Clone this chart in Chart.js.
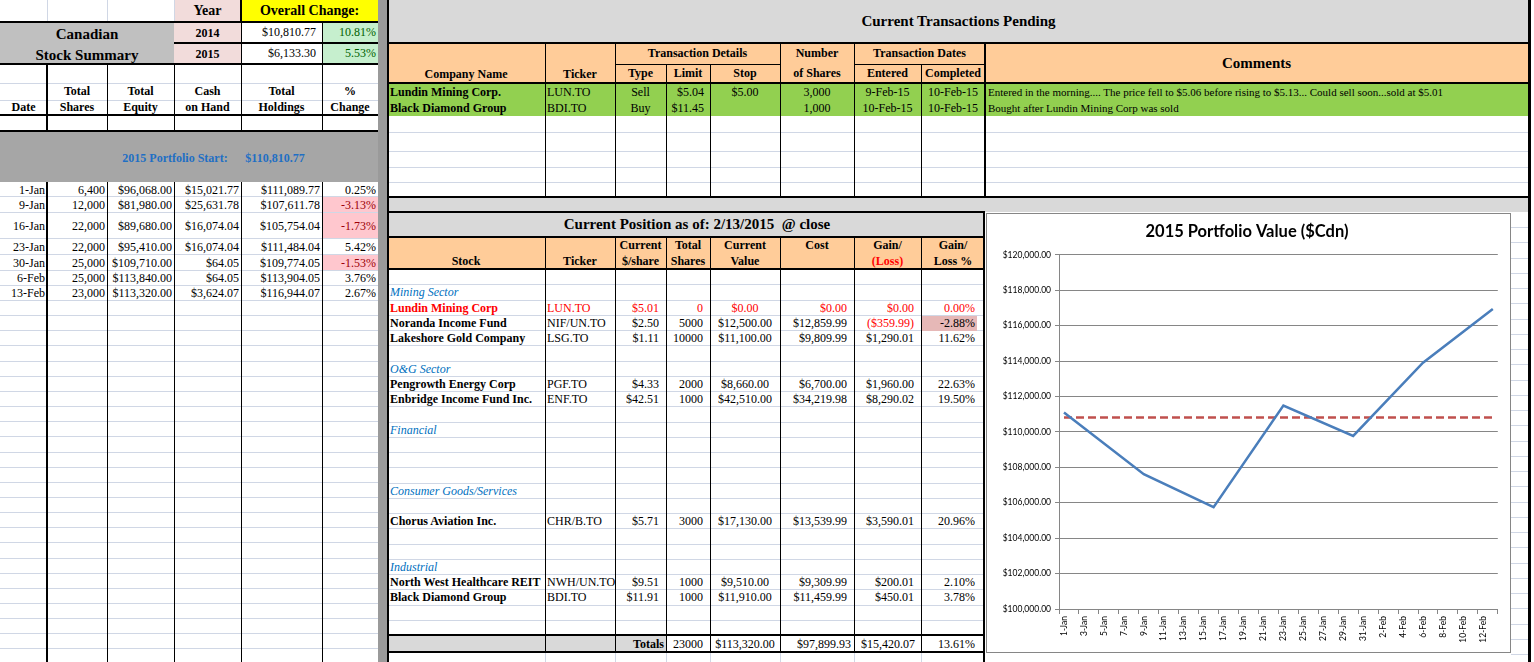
<!DOCTYPE html>
<html><head><meta charset="utf-8">
<script src="https://cdn.jsdelivr.net/npm/chart.js@4.4.1/dist/chart.umd.min.js"></script>
<style>
html,body{margin:0;padding:0;background:#fff;}
#sheet{position:relative;width:1534px;height:662px;overflow:hidden;font-family:'Liberation Serif','Times New Roman',serif;color:#000;}
#sheet div{position:absolute;box-sizing:border-box;}
</style></head><body>
<div id="sheet"></div>
<script>
// ---------- DATA ----------
const dates = ['1-Jan','9-Jan','16-Jan','23-Jan','30-Jan','6-Feb','13-Feb'];
const totalShares = [6400, 12000, 22000, 22000, 25000, 25000, 23000];
const totalEquity = [96068.00, 81980.00, 89680.00, 95410.00, 109710.00, 113840.00, 113320.00];
const cashOnHand = [15021.77, 25631.78, 16074.04, 16074.04, 64.05, 64.05, 3624.07];
const totalHoldings = [111089.77, 107611.78, 105754.04, 111484.04, 109774.05, 113904.05, 116944.07];
const pctChange = [0.25, -3.13, -1.73, 5.42, -1.53, 3.76, 2.67];
const portfolioStart = 110810.77;
const xTickLabels = ['1-Jan','3-Jan','5-Jan','7-Jan','9-Jan','11-Jan','13-Jan','15-Jan','17-Jan','19-Jan','21-Jan','23-Jan','25-Jan','27-Jan','29-Jan','31-Jan','2-Feb','4-Feb','6-Feb','8-Feb','10-Feb','12-Feb'];
const yMin = 100000, yMax = 120000, yStep = 2000;
const chartTitle = '2015 Portfolio Value ($Cdn)';

// ---------- helpers ----------
const S = document.getElementById('sheet');
function box(x,y,w,h,css){const d=document.createElement('div');d.style.cssText=`left:${x}px;top:${y}px;width:${w}px;height:${h}px;`+(css||'');S.appendChild(d);return d;}
function hl(x1,x2,y,t,c){box(x1,y,x2-x1,t||1,`background:${c||'#000'};`);}
function vl(x,y1,y2,t,c){box(x,y1,t||1,y2-y1,`background:${c||'#000'};`);}
function txt(x1,x2,y1,y2,s,o){o=o||{};const a=o.a||'left';const pad=o.pad!=null?o.pad:3;
  const d=box(x1,y1,x2-x1,y2-y1,`line-height:${y2-y1}px;white-space:pre;overflow:visible;font-size:${o.size||12}px;font-weight:${o.b?'bold':'normal'};font-style:${o.i?'italic':'normal'};color:${o.c||'#000'};text-align:${a};`+(a==='right'?`padding-right:${pad}px;`:a==='left'?`padding-left:${pad}px;`:'')+(o.ff?`font-family:${o.ff};`:''));
  d.textContent=s;return d;}
const money=v=>(v<0?'($'+Math.abs(v).toLocaleString('en-US',{minimumFractionDigits:2,maximumFractionDigits:2})+')':'$'+v.toLocaleString('en-US',{minimumFractionDigits:2,maximumFractionDigits:2}));
const pct=v=>v.toFixed(2)+'%';
const GL='#d0d7e5';

// ================= LEFT PANEL =================
box(174,0,67,22,'background:#f2dcdb');
box(241,0,137,22,'background:#ffff00');
box(0,22,174,42,'background:#c0c0c0');
box(174,22,67,42,'background:#f2dcdb');
box(322,22,56,42,'background:#c6efce');
box(0,131,378,51,'background:#a6a6a6');
const leftRows=[182,196,212,238,254,270,285,300];
pctChange.forEach((v,i)=>{ if(v<0) box(322,leftRows[i],56,leftRows[i+1]-leftRows[i],'background:#ffc7ce'); });
[83,100].forEach(y=>hl(0,378,y,1,GL));
vl(47,0,22,1,GL); vl(107,0,22,1,GL); vl(174,0,22,1,GL);
for(let i=1;i<leftRows.length;i++) hl(0,378,leftRows[i],1,GL);
for(let y=315.2;y<662;y+=15.15) hl(0,378,Math.round(y),1,GL);
hl(0,378,21,2); hl(174,378,42,2); hl(0,378,63,2); hl(0,378,114,2); hl(0,378,130,2);
vl(240,0,22,2); vl(241,22,64,1); vl(322,22,64,1);
[[46,2],[107,1],[174,1],[241,1],[322,1]].forEach(([x,t])=>{vl(x,64,131,t);vl(x,182,662,t);});
box(378,0,9,662,'background:#9a9a9a'); vl(387,0,662,2);
txt(174,241,0,22,'Year',{a:'center',b:1,size:14});
txt(241,378,0,22,'Overall Change:',{a:'center',b:1,size:14});
txt(0,174,23,45,'Canadian',{a:'center',b:1,size:15});
txt(0,174,44,66,'Stock Summary',{a:'center',b:1,size:15});
txt(174,241,23,44,'2014',{a:'center',b:1,size:12});
txt(174,241,44,65,'2015',{a:'center',b:1,size:12});
txt(241,322,22,43,'$10,810.77',{a:'right',pad:6,size:12});
txt(241,322,43,64,'$6,133.30',{a:'right',pad:6,size:12});
txt(322,378,22,43,'10.81%',{a:'right',pad:2,size:12,c:'#006100'});
txt(322,378,43,64,'5.53%',{a:'right',pad:2,size:12,c:'#006100'});
const lc=[0,47,107,174,241,322,378];
const h1=['','Total','Total','Cash','Total','%'], h2=['Date','Shares','Equity','on Hand','Holdings','Change'];
for(let c=0;c<6;c++){ if(h1[c]) txt(lc[c],lc[c+1],83,100,h1[c],{a:'center',b:1}); txt(lc[c],lc[c+1],100,115,h2[c],{a:'center',b:1}); }
txt(110,240,150,166,'2015 Portfolio Start:',{a:'center',b:1,c:'#1f6fc4'});
txt(240,310,150,166,money(portfolioStart),{a:'center',b:1,c:'#1f6fc4'});
dates.forEach((d,i)=>{
  const y1=leftRows[i]+1, y2=leftRows[i+1]+1;
  const vals=[d,totalShares[i].toLocaleString('en-US'),money(totalEquity[i]),money(cashOnHand[i]),money(totalHoldings[i]),pct(pctChange[i])];
  vals.forEach((s,c)=>txt(lc[c],lc[c+1],y1,y2,s,{a:'right',pad:2,c:(c===5&&pctChange[i]<0)?'#9c0006':'#000'}));
});

// ================= TOP PANEL =================
box(389,0,1139,42,'background:#d9d9d9');
box(389,44,1139,38,'background:#ffcc99');
box(389,84,1139,32,'background:#92d050');
[132,151,167,182].forEach(y=>hl(389,1528,y,1,GL));
box(389,198,1139,14,'background:#d9d9d9');
hl(387,1528,42,2); hl(387,1528,82,2); hl(387,1528,196,2);
hl(615,780,64,1); hl(854,985,64,1);
[[545,42],[615,42],[666,64],[710,64],[780,42],[854,42],[921,64]].forEach(([x,y])=>vl(x,y,197,1));
vl(984,42,197,2);
vl(1528,0,662,3);
txt(389,1528,0,42,'Current Transactions Pending',{a:'center',b:1,size:15});
txt(387,545,66,83,'Company Name',{a:'center',b:1});
txt(545,615,66,83,'Ticker',{a:'center',b:1});
txt(615,780,44,63,'Transaction Details',{a:'center',b:1});
txt(615,666,65,82,'Type',{a:'center',b:1});
txt(666,710,65,82,'Limit',{a:'center',b:1});
txt(710,780,65,82,'Stop',{a:'center',b:1});
txt(780,854,44,63,'Number',{a:'center',b:1});
txt(780,854,65,82,'of Shares',{a:'center',b:1});
txt(854,985,44,63,'Transaction Dates',{a:'center',b:1});
txt(854,921,65,82,'Entered',{a:'center',b:1});
txt(921,985,65,82,'Completed',{a:'center',b:1});
txt(985,1528,44,82,'Comments',{a:'center',b:1,size:15});
const tx=[
 ['Lundin Mining Corp.','LUN.TO','Sell','$5.04','$5.00','3,000','9-Feb-15','10-Feb-15','Entered in the morning.... The price fell to $5.06 before rising to $5.13... Could sell soon...sold at $5.01'],
 ['Black Diamond Group','BDI.TO','Buy','$11.45','','1,000','10-Feb-15','10-Feb-15','Bought after Lundin Mining Corp was sold']];
tx.forEach((r,i)=>{const y1=84+i*16,y2=y1+16;
  txt(387,545,y1,y2,r[0],{b:1,pad:3}); txt(545,615,y1,y2,r[1],{pad:2});
  txt(615,666,y1,y2,r[2],{a:'center'}); txt(666,710,y1,y2,r[3],{a:'right',pad:6});
  txt(710,780,y1,y2,r[4],{a:'center'}); txt(780,854,y1,y2,r[5],{a:'center'});
  txt(854,921,y1,y2,r[6],{a:'center'}); txt(921,985,y1,y2,r[7],{a:'center'});
  txt(985,1528,y1,y2,r[8],{pad:3,size:11});
});

// ================= MIDDLE PANEL =================
box(389,213,595,24,'background:#d9d9d9');
box(389,238,595,31,'background:#ffcc99');
box(389,636,277,16,'background:#d9d9d9');
const RH=15.25, R0=269;
for(let i=1;i<24;i++) hl(389,984,Math.round(R0+i*RH),1,GL);
box(922,316,55,15,'background:#e6b8b7');
hl(387,985,211,2); hl(387,985,236,2); hl(387,985,268,2); hl(387,985,634,2); hl(387,985,651,2);
const mc=[387,545,615,666,710,780,854,921,985];
for(let c=1;c<8;c++){ vl(mc[c],237,652,1); vl(mc[c],653,662,1,GL); }
vl(983,212,662,2);
for(let y=227;y<662;y+=15.25) hl(1511,1528,Math.round(y),1,GL);
txt(389,1005,212,237,'Current Position as of: 2/13/2015  @ close',{a:'center',b:1,size:15});
const mh1=['','','Current','Total','Current','Cost','Gain/','Gain/'], mh2=['Stock','Ticker','$/share','Shares','Value','','(Loss)','Loss %'];
for(let c=0;c<8;c++){ if(mh1[c]) txt(mc[c],mc[c+1],237,254,mh1[c],{a:'center',b:1}); if(mh2[c]) txt(mc[c],mc[c+1],253,270,mh2[c],{a:'center',b:1,c:c===6?'#ff0000':'#000'}); }
const rowY=i=>Math.round(R0+i*RH)+1;
const sectors=[[1,'Mining Sector'],[6,'O&G Sector'],[10,'Financial'],[14,'Consumer Goods/Services'],[19,'Industrial']];
sectors.forEach(([i,s])=>txt(387,545,rowY(i),rowY(i)+15,s,{i:1,c:'#0070c0',pad:3}));
const holdings=[
 [2,'Lundin Mining Corp','LUN.TO',5.01,0,0,0,0,0.00],
 [3,'Noranda Income Fund','NIF/UN.TO',2.50,5000,12500.00,12859.99,-359.99,-2.88],
 [4,'Lakeshore Gold Company','LSG.TO',1.11,10000,11100.00,9809.99,1290.01,11.62],
 [7,'Pengrowth Energy Corp','PGF.TO',4.33,2000,8660.00,6700.00,1960.00,22.63],
 [8,'Enbridge Income Fund Inc.','ENF.TO',42.51,1000,42510.00,34219.98,8290.02,19.50],
 [16,'Chorus Aviation Inc.','CHR/B.TO',5.71,3000,17130.00,13539.99,3590.01,20.96],
 [20,'North West Healthcare REIT','NWH/UN.TO',9.51,1000,9510.00,9309.99,200.01,2.10],
 [21,'Black Diamond Group','BDI.TO',11.91,1000,11910.00,11459.99,450.01,3.78]];
holdings.forEach(r=>{const y1=rowY(r[0]),y2=y1+15;const red=r[0]===2;const col=red?'#ff0000':'#000';
  txt(387,545,y1,y2,r[1],{b:1,c:col,pad:3}); txt(545,615,y1,y2,r[2],{c:col,pad:2});
  txt(615,666,y1,y2,money(r[3]),{a:'right',pad:7,c:col}); txt(666,710,y1,y2,String(r[4]),{a:'right',pad:7,c:col});
  txt(710,780,y1,y2,money(r[5]),{a:'center',c:col}); txt(780,854,y1,y2,money(r[6]),{a:'right',pad:7,c:col});
  txt(854,921,y1,y2,money(r[7]),{a:'right',pad:7,c:(red||r[7]<0)?'#ff0000':'#000'}); txt(921,985,y1,y2,pct(r[8]),{a:'right',pad:10,c:col});
});
txt(387,666,636,652,'Totals',{a:'right',b:1,pad:2});
txt(666,710,636,652,'23000',{a:'right',pad:7});
txt(710,780,636,652,'$113,320.00',{a:'center'});
txt(780,854,636,652,'$97,899.93',{a:'right',pad:3});
txt(854,921,636,652,'$15,420.07',{a:'right',pad:6});
txt(921,985,636,652,'13.61%',{a:'right',pad:10});

// ================= CHART =================
const cb=box(986,213,525,440,'background:#fff;border:1px solid #868686;');
const cv=document.createElement('canvas'); cv.width=523; cv.height=438; cv.style.cssText='width:523px;height:438px;display:block;';
cb.appendChild(cv);
function dayIndex(s){const p=s.split('-');return (p[1]==='Feb'?31:0)+parseInt(p[0],10)-1;}
const xMin=dayIndex(dates[0])-0.5, xMax=dayIndex(dates[dates.length-1])+0.5;
new Chart(cv,{
  type:'line',
  data:{datasets:[
    {data:dates.map((d,i)=>({x:dayIndex(d),y:totalHoldings[i]})),borderColor:'#4a7ebb',borderWidth:2.5,pointRadius:0,tension:0,fill:false},
    {data:[dates[0],dates[dates.length-1]].map(d=>({x:dayIndex(d),y:portfolioStart})),borderColor:'#c0504d',borderWidth:2.5,borderDash:[8,4],pointRadius:0,fill:false}
  ]},
  options:{
    responsive:false,animation:false,
    layout:{padding:{left:0,right:3,top:0,bottom:0}},
    plugins:{legend:{display:false},tooltip:{enabled:false},
      title:{display:true,text:chartTitle,color:'#000',font:{family:'Lato',size:16.5,weight:'bold',lineHeight:1.2},padding:{top:8,bottom:13}}},
    scales:{
      x:{type:'linear',min:xMin,max:xMax,bounds:'data',
        afterBuildTicks:s=>{s.ticks=xTickLabels.map(l=>({value:dayIndex(l)-0.5})).concat([{value:xMax}]);},
        afterFit:s=>{s.height=43;},
        ticks:{autoSkip:false,minRotation:90,maxRotation:90,labelOffset:5,padding:2,color:'#000',font:{family:'Lato',size:8.5},
          callback:(v,i)=>xTickLabels[i]!==undefined?xTickLabels[i]:''},
        grid:{drawOnChartArea:false,drawTicks:true,tickLength:5,color:'#868686'},
        border:{color:'#868686'}},
      y:{min:yMin,max:yMax,
        afterFit:s=>{s.width=72;},
        ticks:{stepSize:yStep,padding:4,color:'#000',font:{family:'Lato',size:8.5},
          callback:v=>'$'+Number(v).toLocaleString('en-US',{minimumFractionDigits:2,maximumFractionDigits:2})},
        grid:{color:'#868686',tickLength:4},
        border:{color:'#868686'}}
    }
  }
});
</script>
</body></html>
